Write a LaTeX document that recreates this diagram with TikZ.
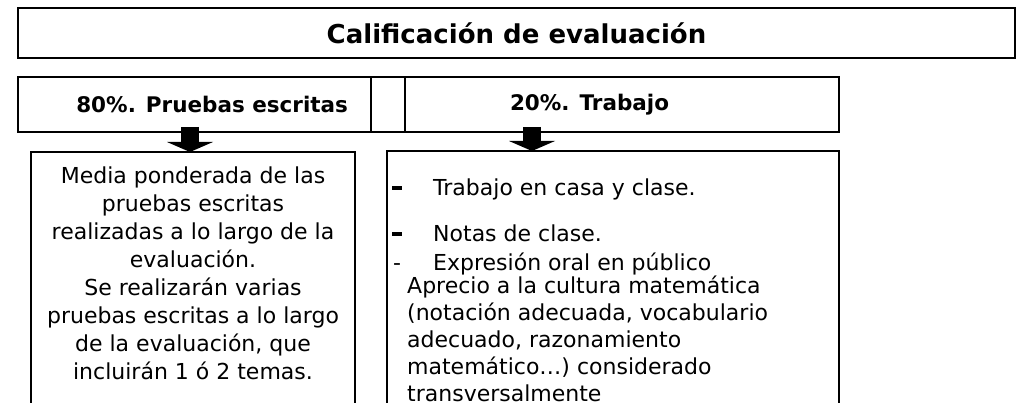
\documentclass[tikz,border=0pt]{standalone}
\usepackage{fontspec}
\setmainfont{DejaVu Sans}
\usetikzlibrary{arrows.meta}

\begin{document}
\begin{tikzpicture}[x=1pt,y=-1pt,
        box/.style={draw, line width=2pt, rectangle, inner sep=0pt, outer sep=0pt},
        head/.style={font=\fontsize{21.5}{26}\selectfont\bfseries},
        body/.style={font=\fontsize{22}{28}\selectfont, inner sep=0pt},
        bigarrow/.style={line width=18pt, -{Triangle[width=46pt,length=10pt,line width=0pt]}}]
        \useasboundingbox (0,0) rectangle (1019,403);
        \clip (0,0) rectangle (1019,403);

        % Title
        \node [box, anchor=north west, minimum width=997pt, minimum height=50pt,
            font=\fontsize{26}{30}\selectfont\bfseries] (titulo) at (18,8) {Calificación de evaluación};

        % Weights
        \node [box, head, anchor=north west, minimum height=55pt, text width=307pt,
            inner xsep=23pt, align=flush right] (pruebas) at (18,77) {80\%. Pruebas escritas};
        \node [box, anchor=north west, minimum width=34pt, minimum height=55pt] (hueco) at (pruebas.north east) {};
        \node [box, head, anchor=north west, minimum height=55pt, text width=224pt,
            inner xsep=105pt, align=flush left] (trabajo) at (hueco.north east) {20\%. Trabajo};

        % Detail boxes
        \node [box, anchor=north west, minimum width=324pt, minimum height=280pt] (media) at (31,152) {};
        \node [box, anchor=north west, minimum width=452pt, minimum height=280pt] (lista) at (387,151) {};

        % base is the last line here
        \node [body, align=center, anchor=base] (mediatxt) at ([yshift=-227pt]media.north) {Media ponderada de las\\
            pruebas escritas\\
            realizadas a lo largo de la\\
            evaluación.\\
            Se realizarán varias\\
            pruebas escritas a lo largo\\
            de la evaluación, que\\
            incluirán 1 ó 2 temas.};
        \node [body, font=\fontsize{22}{27}\selectfont, align=left, anchor=base west] (listatxt)
            at ([xshift=5pt,yshift=-250pt]lista.north west)
            {\makebox[41pt][l]{\rule[5pt]{10pt}{4pt}}Trabajo en casa y clase.\\[19pt]
            \makebox[41pt][l]{\rule[5pt]{10pt}{4pt}}Notas de clase.\\[2pt]
            \makebox[41pt][l]{\hspace{1pt}-}Expresión oral en público\\[-4pt]
            \hspace*{15pt}Aprecio a la cultura matemática\\
            \hspace*{15pt}(notación adecuada, vocabulario\\
            \hspace*{15pt}adecuado, razonamiento\\
            \hspace*{15pt}matemático…) considerado\\
            \hspace*{15pt}transversalmente};

        % Arrows
        \coordinate (flecha1) at ([xshift=-4.5pt]pruebas.south);
        \coordinate (flecha2) at ([xshift=-90pt]trabajo.south);
        \draw [bigarrow] ([yshift=5pt]flecha1) -- (flecha1 |- media.north);
        \draw [bigarrow] ([yshift=5pt]flecha2) -- (flecha2 |- lista.north);
    \end{tikzpicture}
\end{document}
